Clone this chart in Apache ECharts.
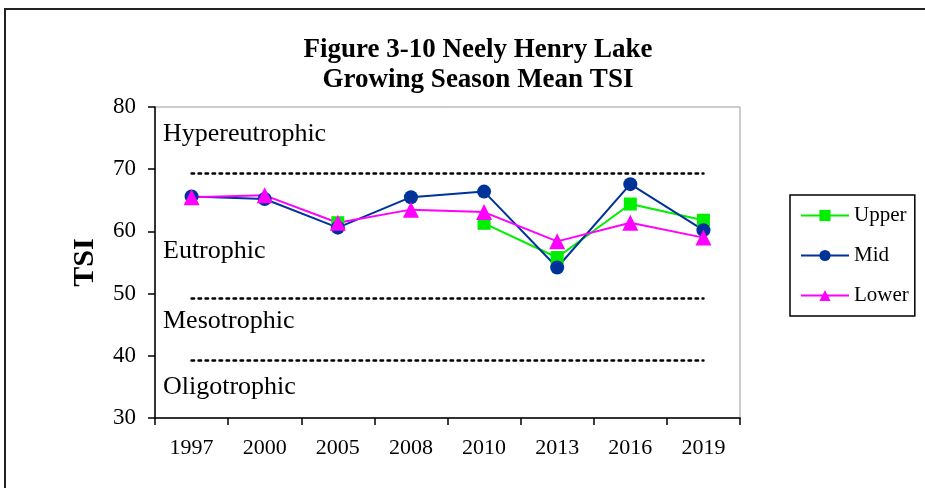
<!DOCTYPE html>
<html>
<head>
<meta charset="utf-8">
<script src="https://cdn.jsdelivr.net/npm/echarts@6/dist/echarts.min.js"></script>
<style>
  html, body { margin: 0; padding: 0; background: #fff; }
  #chart { width: 925px; height: 488px; }
</style>
</head>
<body>
<div id="chart"></div>
<script>
// data
const years = ['1997', '2000', '2005', '2008', '2010', '2013', '2016', '2019']
const upper = [null, null, 61.4, null, 61.3, 55.8, 64.4, 61.8]
const mid = [65.6, 65.2, 60.6, 65.5, 66.4, 54.2, 67.6, 60.2]
const lower = [65.5, 65.8, 61.4, 63.5, 63.1, 58.4, 61.4, 59.0]
// trophic-state boundary lines (dotted)
const boundaries = [69.3, 49.3, 39.3]
const zoneLabels = ['Hypereutrophic', 'Eutrophic', 'Mesotrophic', 'Oligotrophic']
const zoneY = [133, 250, 320, 386]

const serif = '"Liberation Serif", "DejaVu Serif", serif'
const chart = echarts.init(document.getElementById('chart'), null, { renderer: 'canvas' })

const option = {
  animation: false,
  backgroundColor: '#fff',
  textStyle: { fontFamily: serif, color: '#000' },
  title: {
    text: 'Figure 3-10 Neely Henry Lake\nGrowing Season Mean TSI',
    left: 473,
    top: 30,
    textAlign: 'center',
    textStyle: { fontFamily: serif, fontWeight: 'bold', fontSize: 27, lineHeight: 30, color: '#000' }
  },
  legend: {
    data: ['Upper', 'Mid', 'Lower'],
    orient: 'vertical',
    left: 790,
    top: 195,
    padding: [10, 6, 10, 10],
    itemWidth: 48,
    itemHeight: 14,
    itemGap: 19,
    borderColor: '#000',
    borderWidth: 1.5,
    textStyle: { fontFamily: serif, fontSize: 21, color: '#000' }
  },
  grid: {
    left: 155,
    right: 185,
    top: 107,
    bottom: 70,
    show: true,
    borderColor: '#999',
    borderWidth: 1
  },
  xAxis: {
    type: 'category',
    data: years,
    boundaryGap: true,
    axisLine: { lineStyle: { color: '#000', width: 1.5 } },
    axisTick: { show: true, interval: 0, length: 7, lineStyle: { color: '#000', width: 1.5 } },
    axisLabel: { interval: 0, margin: 19, fontFamily: serif, fontSize: 22, color: '#000' }
  },
  yAxis: {
    type: 'value',
    min: 30,
    max: 80,
    interval: 10,
    name: 'TSI',
    nameLocation: 'middle',
    nameRotate: 90,
    nameGap: 55,
    nameTextStyle: { fontFamily: serif, fontWeight: 'bold', fontSize: 30, color: '#000' },
    splitLine: { show: false },
    axisLine: { show: true, lineStyle: { color: '#000', width: 1.5 } },
    axisTick: { show: true, length: 7, lineStyle: { color: '#000', width: 1.5 } },
    axisLabel: { margin: 19, fontFamily: serif, fontSize: 23, color: '#000' }
  },
  series: [
    {
      name: 'Upper',
      type: 'line',
      data: upper,
      symbol: 'rect',
      symbolSize: 13,
      color: '#00ee00',
      lineStyle: { width: 2, color: '#00ee00' },
      itemStyle: { color: '#00ee00' },
      markLine: {
        silent: true,
        symbol: 'none',
        label: { show: false },
        lineStyle: { color: '#000', type: [2.5, 4.5], width: 2.5, cap: 'round' },
        data: boundaries.map(v => [
          { coord: [years[0], v] },
          { coord: [years[years.length - 1], v] }
        ])
      }
    },
    {
      name: 'Mid',
      type: 'line',
      data: mid,
      symbol: 'circle',
      symbolSize: 14,
      color: '#003399',
      lineStyle: { width: 2, color: '#003399' },
      itemStyle: { color: '#003399' }
    },
    {
      name: 'Lower',
      type: 'line',
      data: lower,
      symbol: 'triangle',
      symbolSize: 16,
      color: '#ff00ff',
      lineStyle: { width: 2, color: '#ff00ff' },
      itemStyle: { color: '#ff00ff' }
    }
  ],
  graphic: [
    {
      type: 'rect',
      shape: { x: 5, y: 9, width: 940, height: 500 },
      style: { fill: 'none', stroke: '#222', lineWidth: 2 },
      silent: true,
      z: -1
    }
  ].concat(zoneLabels.map((t, i) => ({
    type: 'text',
    left: 163,
    top: zoneY[i] - 12,
    style: { text: t, font: '26px ' + serif, fill: '#000' },
    silent: true
  })))
}

chart.setOption(option)
</script>
</body>
</html>
